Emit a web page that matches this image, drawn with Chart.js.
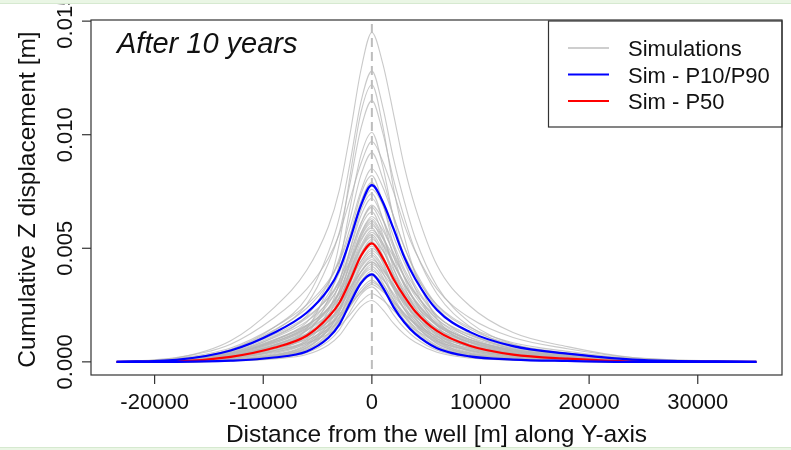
<!DOCTYPE html>
<html>
<head>
<meta charset="utf-8">
<script src="https://cdn.jsdelivr.net/npm/chart.js@4.4.1/dist/chart.umd.min.js"></script>
<style>
  html, body { margin: 0; padding: 0; background: #fff; }
  #wrap { position: relative; width: 791px; height: 450px; overflow: hidden; }
  .band { position: absolute; left: 0; width: 791px; background: #eaf6e5; }
</style>
</head>
<body>
<div id="wrap">
  <canvas id="myChart" width="791" height="450"></canvas>
  <div class="band" style="top:0;height:3px;border-bottom:1px solid #d6e9d0"></div>
  <div class="band" style="top:447px;height:3px;border-top:1px solid #d6e9d0"></div>
</div>
<script>
// distance along Y-axis [m]
const distance = [-23500, -18000, -13000, -9000, -6000, -4000, -3000, -2000, -1000, 0,
                  1000, 2000, 3000, 4000, 6000, 9000, 13000, 18000, 24000, 35400];

// values below are in mm, the axis shows metres
const p90 = [0, 0.09, 0.5, 1.28, 2.16, 3.2, 4.05, 5.4, 6.9, 7.78, 7.05, 5.85, 4.6, 3.65, 2.28, 1.32, 0.69, 0.36, 0.1, 0];
const p50 = [0, 0.02, 0.22, 0.62, 1.15, 1.97, 2.59, 3.58, 4.67, 5.22, 4.58, 3.64, 2.87, 2.22, 1.36, 0.71, 0.32, 0.14, 0.02, 0];
const p10 = [0, 0, 0.05, 0.19, 0.46, 1.06, 1.64, 2.59, 3.47, 3.85, 3.28, 2.41, 1.73, 1.23, 0.6, 0.24, 0.1, 0.04, 0, 0];

// individual simulation runs (gray)
const simRuns = [
  [0, .17, .93, 2.39, 4.03, 5.96, 7.55, 10.06, 12.86, 14.5, 13.14, 10.9, 8.57, 6.8, 4.25, 2.47, 1.29, .67, .19, 0],
  [0, .05, .54, 1.52, 2.82, 4.83, 6.35, 8.78, 11.46, 12.8, 11.23, 8.92, 7.04, 5.44, 3.33, 1.74, .78, .35, .05, 0],
  [0, 0, .16, .6, 1.46, 3.36, 5.2, 8.21, 10.99, 12.2, 10.39, 7.64, 5.48, 3.89, 1.9, .76, .32, .12, 0, 0],
  [0, .05, .48, 1.37, 2.53, 4.34, 5.7, 7.89, 10.29, 11.5, 10.09, 8.02, 6.33, 4.89, 2.99, 1.56, .7, .31, .05, 0],
  [0, 0, .13, .49, 1.21, 2.78, 4.3, 6.8, 9.1, 10.1, 8.61, 6.32, 4.53, 3.22, 1.58, .63, .26, .1, 0, 0],
  [0, .19, .78, 1.94, 3.2, 4.56, 5.63, 7.18, 8.73, 9.7, 8.83, 7.47, 6.01, 4.85, 3.2, 1.94, 1.07, .58, .19, 0],
  [0, .04, .39, 1.09, 2.02, 3.47, 4.56, 6.31, 8.23, 9.2, 8.07, 6.41, 5.06, 3.91, 2.39, 1.25, .56, .25, .04, 0],
  [0, .1, .54, 1.4, 2.36, 3.49, 4.43, 5.9, 7.54, 8.5, 7.7, 6.39, 5.02, 3.99, 2.49, 1.45, .76, .39, .11, 0],
  [0, 0, .11, .4, .98, 2.26, 3.49, 5.52, 7.39, 8.2, 6.99, 5.13, 3.68, 2.62, 1.28, .51, .21, .08, 0, 0],
  [0, .15, .61, 1.52, 2.51, 3.57, 4.41, 5.62, 6.84, 7.6, 6.92, 5.85, 4.71, 3.8, 2.51, 1.52, .84, .46, .15, 0],
  [0, .03, .3, .86, 1.58, 2.71, 3.57, 4.94, 6.44, 7.2, 6.31, 5.02, 3.96, 3.06, 1.87, .98, .44, .19, .03, 0],
  [0, .08, .44, 1.14, 1.92, 2.84, 3.59, 4.79, 6.12, 6.9, 6.25, 5.19, 4.08, 3.24, 2.02, 1.17, .61, .32, .09, 0],
  [0, 0, .09, .32, .79, 1.82, 2.81, 4.44, 5.95, 6.6, 5.62, 4.13, 2.96, 2.11, 1.03, .41, .17, .07, 0, 0],
  [0, .03, .26, .75, 1.39, 2.38, 3.12, 4.32, 5.64, 6.3, 5.53, 4.39, 3.47, 2.68, 1.64, .86, .38, .17, .03, 0],
  [0, .12, .48, 1.2, 1.98, 2.82, 3.48, 4.44, 5.4, 6.0, 5.46, 4.62, 3.72, 3.0, 1.98, 1.2, .66, .36, .12, 0],
  [0, .07, .37, .96, 1.61, 2.38, 3.02, 4.03, 5.14, 5.8, 5.25, 4.36, 3.43, 2.72, 1.7, .99, .52, .27, .08, 0],
  [0, 0, .07, .27, .66, 1.51, 2.34, 3.7, 4.96, 5.5, 4.69, 3.44, 2.47, 1.75, .86, .34, .14, .06, 0, 0],
  [0, .02, .22, .63, 1.17, 2.0, 2.63, 3.64, 4.74, 5.3, 4.65, 3.69, 2.92, 2.25, 1.38, .72, .32, .14, .02, 0],
  [0, .06, .32, .83, 1.39, 2.06, 2.61, 3.47, 4.44, 5.0, 4.53, 3.76, 2.96, 2.35, 1.47, .85, .45, .23, .07, 0],
  [0, .02, .2, .57, 1.06, 1.81, 2.38, 3.29, 4.3, 4.8, 4.21, 3.35, 2.64, 2.04, 1.25, .65, .29, .13, .02, 0],
  [0, 0, .06, .23, .55, 1.27, 1.96, 3.1, 4.14, 4.6, 3.92, 2.88, 2.07, 1.47, .72, .29, .12, .05, 0, 0],
  [0, .09, .35, .88, 1.45, 2.07, 2.55, 3.26, 3.96, 4.4, 4.0, 3.39, 2.73, 2.2, 1.45, .88, .48, .26, .09, 0],
  [0, .02, .18, .5, .92, 1.58, 2.08, 2.88, 3.76, 4.2, 3.68, 2.93, 2.31, 1.79, 1.09, .57, .26, .11, .02, 0],
  [0, .05, .26, .66, 1.11, 1.64, 2.08, 2.78, 3.55, 4.0, 3.62, 3.01, 2.36, 1.88, 1.17, .68, .36, .18, .05, 0],
  [0, 0, .05, .19, .46, 1.05, 1.62, 2.56, 3.42, 3.8, 3.24, 2.38, 1.71, 1.21, .59, .24, .1, .04, 0, 0],
  [0, .01, .15, .43, .79, 1.36, 1.79, 2.47, 3.22, 3.6, 3.16, 2.51, 1.98, 1.53, .94, .49, .22, .1, .01, 0],
  [0, 0, .04, .16, .4, .91, 1.41, 2.22, 2.97, 3.3, 2.81, 2.07, 1.48, 1.05, .51, .2, .09, .03, 0, 0],
  [0, .04, .19, .5, .83, 1.23, 1.56, 2.08, 2.66, 3.0, 2.72, 2.26, 1.77, 1.41, .88, .51, .27, .14, .04, 0],
  [0, 0, .04, .13, .32, .74, 1.15, 1.82, 2.43, 2.7, 2.3, 1.69, 1.21, .86, .42, .17, .07, .03, 0, 0],
  [0, 0, .08, .3, .73, 1.68, 2.6, 4.11, 5.5, 6.1, 5.2, 3.82, 2.74, 1.95, .95, .38, .16, .06, 0, 0],
  [0, .02, .24, .67, 1.23, 2.11, 2.78, 3.84, 5.01, 5.6, 4.91, 3.9, 3.08, 2.38, 1.46, .76, .34, .15, .02, 0],
  [0, .1, .39, .98, 1.62, 2.3, 2.84, 3.63, 4.41, 4.9, 4.46, 3.77, 3.04, 2.45, 1.62, .98, .54, .29, .1, 0],
  [0, .03, .33, .94, 1.74, 2.98, 3.92, 5.42, 7.07, 7.9, 6.93, 5.51, 4.35, 3.36, 2.05, 1.07, .48, .21, .03, 0],
  [0, .05, .29, .74, 1.25, 1.85, 2.34, 3.12, 3.99, 4.5, 4.08, 3.38, 2.66, 2.11, 1.32, .77, .4, .21, .06, 0],
  [0, .07, .27, .68, 1.12, 1.6, 1.97, 2.52, 3.06, 3.4, 3.09, 2.62, 2.11, 1.7, 1.12, .68, .37, .2, .07, 0],
  [0, .03, .29, .81, 1.5, 2.56, 3.37, 4.66, 6.09, 6.8, 5.96, 4.74, 3.74, 2.89, 1.77, .92, .41, .18, .03, 0],
  [0, .08, .41, 1.06, 1.78, 2.63, 3.33, 4.44, 5.68, 6.4, 5.8, 4.81, 3.78, 3.0, 1.88, 1.09, .57, .29, .08, 0],
  [0, 0, .08, .29, .71, 1.62, 2.51, 3.97, 5.32, 5.9, 5.03, 3.69, 2.65, 1.88, .92, .37, .15, .06, 0, 0],
  [0, .06, .35, .89, 1.5, 2.22, 2.81, 3.75, 4.79, 5.4, 4.89, 4.06, 3.19, 2.53, 1.58, .92, .48, .25, .07, 0],
  [0, 0, .07, .25, .61, 1.4, 2.17, 3.43, 4.6, 5.1, 4.35, 3.19, 2.29, 1.63, .8, .32, .13, .05, 0, 0],
  [0, .02, .2, .56, 1.03, 1.77, 2.33, 3.22, 4.21, 4.7, 4.12, 3.28, 2.59, 2.0, 1.22, .64, .29, .13, .02, 0],
  [0, .05, .28, .71, 1.2, 1.77, 2.24, 2.98, 3.81, 4.3, 3.9, 3.23, 2.54, 2.02, 1.26, .73, .38, .2, .06, 0],
  [0, 0, .05, .2, .49, 1.13, 1.75, 2.76, 3.69, 4.1, 3.49, 2.57, 1.84, 1.31, .64, .25, .11, .04, 0, 0],
  [0, .02, .16, .46, .86, 1.47, 1.93, 2.68, 3.49, 3.9, 3.42, 2.72, 2.15, 1.66, 1.01, .53, .24, .11, .02, 0],
  [0, 0, .1, .36, .89, 2.04, 3.15, 4.98, 6.67, 7.4, 6.3, 4.63, 3.32, 2.36, 1.15, .46, .19, .07, 0, 0],
  [0, .02, .26, .74, 1.36, 2.34, 3.08, 4.25, 5.55, 6.2, 5.44, 4.32, 3.41, 2.64, 1.61, .84, .38, .17, .02, 0],
  [0, .07, .36, .94, 1.58, 2.34, 2.97, 3.96, 5.06, 5.7, 5.16, 4.29, 3.37, 2.67, 1.67, .97, .51, .26, .07, 0],
  [0, 0, .07, .25, .62, 1.43, 2.22, 3.5, 4.69, 5.2, 4.43, 3.26, 2.33, 1.66, .81, .32, .14, .05, 0, 0],
  [0, 0, .06, .22, .53, 1.21, 1.87, 2.96, 3.96, 4.4, 3.75, 2.75, 1.98, 1.4, .69, .27, .11, .04, 0, 0],
  [0, .04, .22, .58, .97, 1.44, 1.82, 2.43, 3.1, 3.5, 3.17, 2.63, 2.07, 1.64, 1.03, .6, .31, .16, .05, 0]
];

const xTicks = [-20000, -10000, 0, 10000, 20000, 30000];
const yTicks = [0, 0.005, 0.010, 0.015];
const legendItems = ['Simulations', 'Sim - P10/P90', 'Sim - P50'];
const legendColors = ['rgb(190,190,190)', '#0000ff', '#ff0000'];

const FONT = '"Liberation Sans", Arial, Helvetica, sans-serif';

function toPoints(values) {
  return values.map((v, i) => ({ x: distance[i], y: v / 1000 }));
}

function lineSet(values, color, width) {
  return {
    data: toPoints(values),
    borderColor: color,
    borderWidth: width,
    pointRadius: 0,
    fill: false,
    cubicInterpolationMode: 'monotone'
  };
}

// P-curves first so they are painted on top of the gray runs
const datasets = [
  lineSet(p90, '#0000ff', 2.2),
  lineSet(p10, '#0000ff', 2.2),
  lineSet(p50, '#ff0000', 2.2),
  ...simRuns.map(r => lineSet(r, 'rgba(180,180,180,0.72)', 1.1))
];

const rStyle = {
  id: 'rStyle',
  afterDatasetDraw(chart, args) {
    // dashed well line, drawn once all gray runs are done
    if (args.index !== 3) return;
    const { ctx, chartArea, scales } = chart;
    const px = scales.x.getPixelForValue(0);
    ctx.save();
    ctx.strokeStyle = '#bdbdbd';
    ctx.lineWidth = 2;
    ctx.setLineDash([9, 5]);
    ctx.beginPath();
    ctx.moveTo(px, chartArea.top + 4);
    ctx.lineTo(px, chartArea.bottom);
    ctx.stroke();
    ctx.restore();
  },
  afterDraw(chart) {
    const { ctx, chartArea: a, scales } = chart;
    ctx.save();
    ctx.strokeStyle = '#333';
    ctx.fillStyle = '#111';
    ctx.lineWidth = 1.2;
    ctx.strokeRect(a.left, a.top, a.right - a.left, a.bottom - a.top);

    // y axis ticks + rotated labels
    ctx.font = '22px ' + FONT;
    ctx.textAlign = 'center';
    ctx.textBaseline = 'alphabetic';
    yTicks.forEach(v => {
      const py = scales.y.getPixelForValue(v);
      ctx.beginPath();
      ctx.moveTo(a.left - 9, py);
      ctx.lineTo(a.left, py);
      ctx.stroke();
      ctx.save();
      ctx.translate(a.left - 19, py);
      ctx.rotate(-Math.PI / 2);
      ctx.fillText(v.toFixed(3), 0, 0);
      ctx.restore();
    });

    // x axis ticks + labels
    xTicks.forEach(v => {
      const px = scales.x.getPixelForValue(v);
      ctx.beginPath();
      ctx.moveTo(px, a.bottom);
      ctx.lineTo(px, a.bottom + 9);
      ctx.stroke();
      ctx.fillText(String(v), px, a.bottom + 34);
    });

    // axis titles
    ctx.font = '24.5px ' + FONT;
    ctx.fillText('Distance from the well [m] along Y-axis', (a.left + a.right) / 2, a.bottom + 67);
    ctx.save();
    ctx.translate(35, (a.top + a.bottom) / 2 + 2);
    ctx.rotate(-Math.PI / 2);
    ctx.fillText('Cumulative Z displacement [m]', 0, 0);
    ctx.restore();

    // panel label
    ctx.font = 'italic 29px ' + FONT;
    ctx.textAlign = 'left';
    ctx.fillText('After 10 years', a.left + 26, a.top + 33);

    // legend box
    const lx = 548, ly = a.top + 1;
    ctx.strokeRect(lx + 0.5, ly, a.right - lx - 0.5, 106);
    ctx.font = '22px ' + FONT;
    legendItems.forEach((label, i) => {
      const y = ly + 27 + i * 26.5;
      ctx.strokeStyle = legendColors[i];
      ctx.lineWidth = i === 0 ? 1.5 : 2;
      ctx.beginPath();
      ctx.moveTo(lx + 20, y);
      ctx.lineTo(lx + 61, y);
      ctx.stroke();
      ctx.fillStyle = '#111';
      ctx.fillText(label, lx + 80, y + 8);
    });
    ctx.restore();
  }
};

const ctx = document.getElementById('myChart').getContext('2d');
const chart = new Chart(ctx, {
  type: 'line',
  data: { datasets },
  plugins: [rStyle],
  options: {
    responsive: false,
    animation: false,
    devicePixelRatio: 1,
    layout: { padding: { left: 91, right: 9, top: 20, bottom: 75 } },
    plugins: {
      legend: { display: false },
      tooltip: { enabled: false }
    },
    scales: {
      x: { type: 'linear', display: false, min: -25856, max: 37756 },
      y: { type: 'linear', display: false, min: -0.000579, max: 0.01505 }
    }
  }
});
</script>
</body>
</html>
